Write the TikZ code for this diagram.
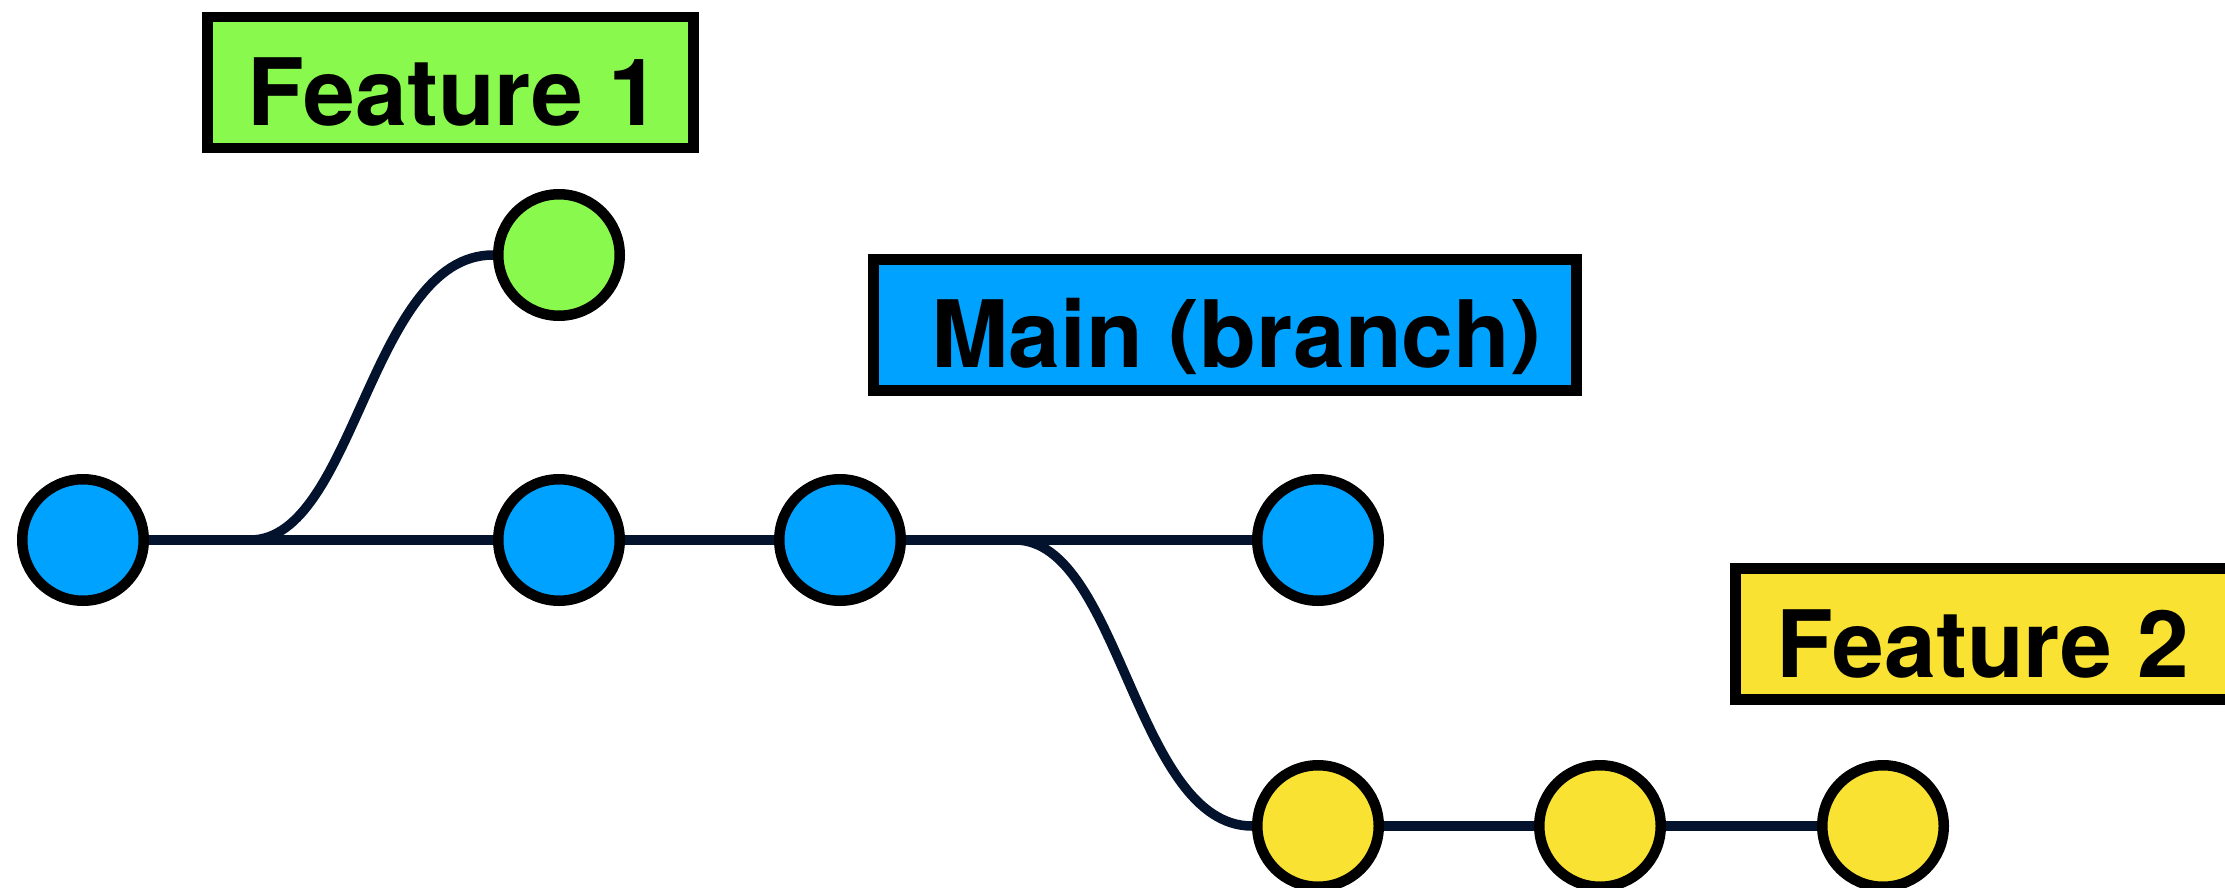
\documentclass[tikz,border=0pt]{standalone}
\usepackage{fontspec}
\usepackage{graphicx}
\setmainfont{TeX Gyre Heros}
\usetikzlibrary{backgrounds}

\definecolor{branchgreen}{RGB}{137,249,77}
\definecolor{branchblue}{RGB}{0,162,255}
\definecolor{branchyellow}{RGB}{249,226,50}
\definecolor{edgenavy}{RGB}{3,19,45}

% short parentheses that sit between cap height and just under the baseline
\newcommand{\shortparen}[1]{\raisebox{9pt}{\scalebox{1}[0.87]{#1}}}

\begin{document}
\begin{tikzpicture}[x=1pt,y=-1pt,
  commit/.style={circle, draw=black, line width=10.5pt, minimum size=121.5pt, inner sep=0pt},
  tag/.style={rectangle, draw=black, line width=10.5pt, inner sep=0pt, anchor=north west},
  tagtext/.style={anchor=base west, inner sep=0pt, font=\fontsize{93}{100}\selectfont\bfseries},
  link/.style={draw=edgenavy, line width=9.5pt}]

  \useasboundingbox (0,0) rectangle (2225,888);
  \clip (0,0) rectangle (2225,888);

  % branch labels
  \node[tag, fill=branchgreen,  minimum width=486pt, minimum height=131pt] (tagf1)   at (202,12)  {};
  \node[tag, fill=branchblue,   minimum width=703pt, minimum height=131pt] (tagmain) at (868,254) {};
  \node[tag, fill=branchyellow, minimum width=505pt, minimum height=131pt] (tagf2)   at (1730,563) {};
  \node[tagtext] (txtf1)   at (247,126)  {Feature 1};
  \node[tagtext] (txtmain) at (931,367)  {Main \shortparen{(}branch\shortparen{)}};
  \node[tagtext] (txtf2)   at (1776,677) {Feature 2};

  % commits on main
  \node[commit, fill=branchblue] (b1) at (83,540)   {};
  \node[commit, fill=branchblue] (b2) at (559,540)  {};
  \node[commit, fill=branchblue] (b3) at (840,540)  {};
  \node[commit, fill=branchblue] (b4) at (1318,540) {};
  % commit on feature 1
  \node[commit, fill=branchgreen] (g1) at (559,255) {};
  % commits on feature 2
  \node[commit, fill=branchyellow] (y1) at (1318,826) {};
  \node[commit, fill=branchyellow] (y2) at (1600,826) {};
  \node[commit, fill=branchyellow] (y3) at (1883,826) {};

  % fork points on the main line
  \coordinate (fork1) at (250,540);
  \coordinate (fork2) at (1015,540);

  \begin{scope}[on background layer]
    \draw[link] (b1) -- (b2) -- (b3) -- (b4);
    \draw[link] (fork1) .. controls (355,540) and (370,255) .. (g1.west);
    \draw[link] (fork2) .. controls (1120,540) and (1135,826) .. (y1.west);
    \draw[link] (y1) -- (y2) -- (y3);
  \end{scope}
\end{tikzpicture}
\end{document}
